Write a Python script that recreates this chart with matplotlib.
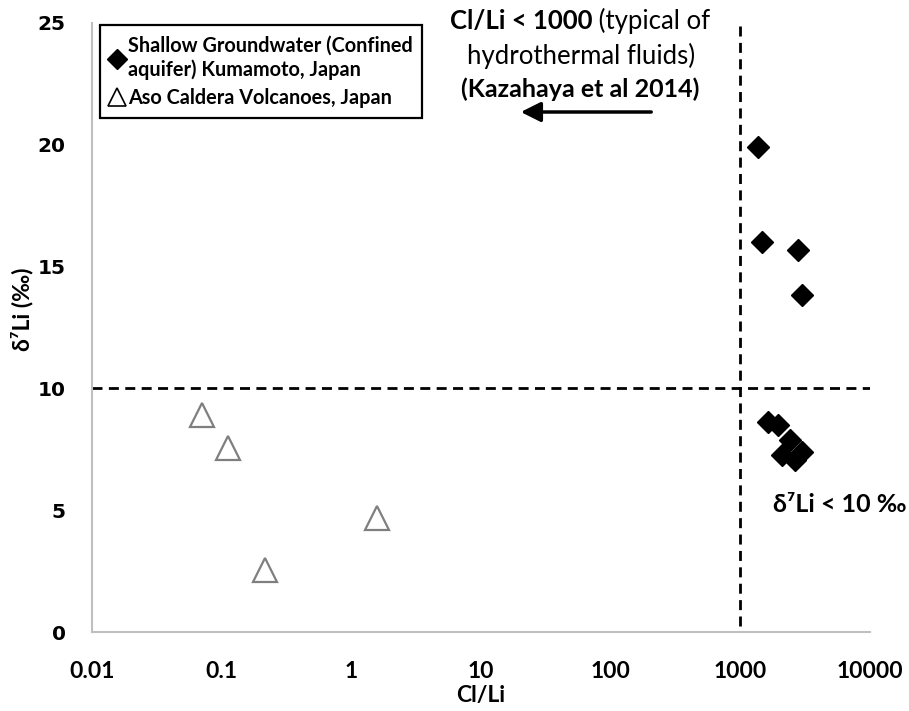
import matplotlib
matplotlib.use("Agg")
import matplotlib.pyplot as plt
from matplotlib.lines import Line2D

# Shallow groundwater (confined aquifer), Kumamoto
gw_cl_li = [1370, 1460, 2760, 2970, 1630, 1950, 2410, 2090, 2980, 2630]
gw_d7li = [19.9, 16.0, 15.7, 13.85, 8.6, 8.5, 7.9, 7.25, 7.4, 7.05]

# Aso caldera volcanoes
aso_cl_li = [0.070, 0.112, 0.214, 1.57]
aso_d7li = [8.9, 7.55, 2.55, 4.7]

x_ticks = [0.01, 0.1, 1, 10, 100, 1000, 10000]
x_ticklabels = ["0.01", "0.1", "1", "10", "100", "1000", "10000"]
y_ticks = [0, 5, 10, 15, 20, 25]

cl_li_limit = 1000
d7li_limit = 10

SANS = ["Lato", "DejaVu Sans"]
plt.rcParams["font.family"] = SANS

fig = plt.figure(figsize=(9.09, 7.11), dpi=100)
ax = fig.add_axes([0.1012, 0.1111, 0.8559, 0.8566])

ax.set_xscale("log")
ax.set_xlim(0.01, 10000)
ax.set_ylim(0, 25)

# reference lines
dash = (0, (3.6, 2.3))
ax.axvline(cl_li_limit, color="black", linestyle=dash, linewidth=2,
           ymin=0.01, ymax=1.0, clip_on=False, zorder=1)
ax.axhline(d7li_limit, color="black", linestyle=dash, linewidth=2, zorder=1)

# data
ax.plot(aso_cl_li, aso_d7li, linestyle="none", marker="^", markersize=17,
        markerfacecolor="white", markeredgecolor="#7f7f7f", markeredgewidth=1.6,
        zorder=3)
ax.plot(gw_cl_li, gw_d7li, linestyle="none", marker="D", markersize=11,
        markerfacecolor="black", markeredgecolor="black", markeredgewidth=1,
        zorder=3)

# axes styling
for side in ["top", "right"]:
    ax.spines[side].set_visible(False)
for side in ["left", "bottom"]:
    ax.spines[side].set_color("#bfbfbf")
    ax.spines[side].set_linewidth(1.5)

ax.set_xticks(x_ticks)
ax.set_xticklabels(x_ticklabels, fontsize=16.5, fontweight="bold")
ax.xaxis.set_minor_locator(matplotlib.ticker.NullLocator())
ax.set_yticks(y_ticks)
ax.set_yticklabels([str(v) for v in y_ticks], fontsize=14.5, fontweight="bold",
                   family="DejaVu Sans")
ax.tick_params(axis="both", length=0)
ax.tick_params(axis="y", pad=19)
ax.tick_params(axis="x", pad=21)

ax.set_xlabel("Cl/Li", fontsize=16.5, fontweight="bold")
ax.xaxis.set_label_coords(0.5, -0.087)
ax.set_ylabel("δ⁷Li (‰)", fontsize=16.5, fontweight="bold")
ax.yaxis.set_label_coords(-0.075, 0.53)

# legend
handles = [
    Line2D([], [], linestyle="none", marker="D", markersize=10,
           markerfacecolor="black", markeredgecolor="black"),
    Line2D([], [], linestyle="none", marker="^", markersize=13,
           markerfacecolor="white", markeredgecolor="black", markeredgewidth=1.2),
]
labels = ["Shallow Groundwater (Confined\naquifer) Kumamoto, Japan",
          "Aso Caldera Volcanoes, Japan"]
leg = ax.legend(handles, labels, loc="upper left", bbox_to_anchor=(0.0103, 0.996),
                borderaxespad=0, fancybox=False, framealpha=1, edgecolor="black",
                handlelength=0.7, handletextpad=0.2, borderpad=0.5,
                labelspacing=0.4, prop={"family": SANS, "weight": "bold", "size": 14.3})
leg.get_frame().set_linewidth(1.6)
for t in leg.get_texts():
    t.set_linespacing(1.25)

# annotations
W, H = 909, 711
fig.text(592 / W, 1 - 21 / H, "Cl/Li < 1000", ha="right", va="center",
         fontsize=18.5, fontweight="bold")
fig.text(592 / W, 1 - 21 / H, " (typical of", ha="left", va="center", fontsize=18.5)
fig.text(581 / W, 1 - 56 / H, "hydrothermal fluids)", ha="center", va="center",
         fontsize=18.5)
fig.text(580 / W, 1 - 89 / H, "(Kazahaya et al 2014)", ha="center", va="center",
         fontsize=18, fontweight="bold")
fig.add_artist(matplotlib.patches.FancyArrowPatch(
    (654 / W, 1 - 112 / H), (518 / W, 1 - 112 / H), transform=fig.transFigure,
    arrowstyle="-|>,head_length=8,head_width=4", mutation_scale=1.5,
    color="black", linewidth=2.5))

fig.text(840 / W, 1 - 505 / H, "δ⁷Li < 10 ‰", ha="center", va="center",
         fontsize=18, fontweight="bold")

fig.savefig("out.png", dpi=100)
